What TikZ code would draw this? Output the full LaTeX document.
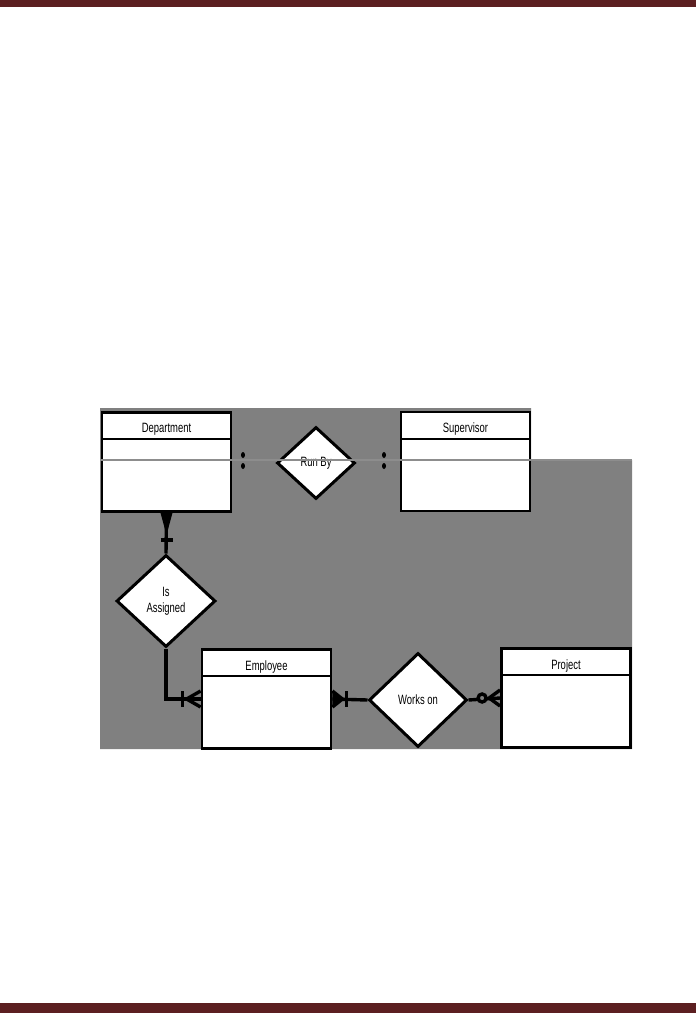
\documentclass[tikz,border=0pt]{standalone}
\usepackage{fontspec}
\newfontfamily\erfont[FakeStretch=0.7]{Liberation Sans}
\usetikzlibrary{arrows.meta,positioning,shapes.geometric,calc}
\definecolor{bar}{HTML}{5c1f21}
\definecolor{bg}{HTML}{808080}

\begin{document}
\begin{tikzpicture}[x=1pt,y=-1pt,
  ent/.style={draw,line width=2.8pt,fill=white,minimum width=129pt,minimum height=99pt,inner sep=0pt},
  rel/.style={draw,diamond,line width=3pt,fill=white,inner sep=0pt,font=\erfont\fontsize{13.5}{15.5}\selectfont,align=center},
  ttl/.style={font=\erfont\fontsize{13.5}{15.5}\selectfont},
  conn/.style={line width=3.4pt},
  every path/.style={line join=miter}]
\useasboundingbox (0,0) rectangle (696,1013);
\fill[bar] (0,0) rectangle (696,7);\fill[bar] (0,1003) rectangle (696,1013);
\fill[bg] (100,408) -- (531,408) -- (531,460) -- (632,460) -- (632,749) -- (100,749) -- cycle;
% entities
\node[ent](dept) at (166.5,462){};\node[ent](sup) at (465.5,461.5){};
\node[ent](emp) at (266.5,699){};\node[ent](proj) at (566,698){};
\foreach \n/\t in {dept/Department,sup/Supervisor,emp/Employee,proj/Project}{
  \node[ttl] (\n-t) at ($(\n.north)+(0,18.5)$) {\t};
  \draw[line width=1.8pt] ($(\n.north west)+(1,28)$) -- ($(\n.north east)+(-1,28)$);}
% relationships
\node[rel,minimum width=78pt,minimum height=72pt](run) at (316,463){Run By};
\node[rel,minimum width=99pt,minimum height=92pt](isa) at (166,601){Is\\Assigned};
\node[rel,minimum width=98pt,minimum height=94pt](works) at (418,700){Works on};
% connectors
\draw[conn] (dept.south) -- (isa.north);
\draw[conn] (isa.south) |- (emp.west);
\draw[conn] (emp.east) -- (works.west);
\draw[conn] (works.east) -- (proj.west);
% cardinality marks
\fill ($(dept.south)+(-6,0)$) -- ($(dept.south)+(0,22)$) -- ($(dept.south)+(6,0)$) -- cycle;
\draw[conn] ($(dept.south)+(-6,27)$) -- ($(dept.south)+(6,27)$);
\draw[conn] ($(emp.west)+(-18,-8)$) -- ($(emp.west)+(-18,8)$);
\draw[conn] ($(emp.west)+(0,-8)$) -- ($(emp.west)+(-14,0)$) -- ($(emp.west)+(0,8)$);
\draw[conn] ($(emp.east)+(14,-8)$) -- ($(emp.east)+(14,8)$);
\draw[conn] ($(emp.east)+(0,-8)$) -- ($(emp.east)+(10,0)$) -- ($(emp.east)+(0,8)$);
\fill ($(emp.east)+(0,-8)$) -- ($(emp.east)+(10,0)$) -- ($(emp.east)+(0,8)$) -- cycle;
\draw[conn,fill=bg] ($(proj.west)+(-18,0)$) circle (4);
\draw[conn] ($(proj.west)+(0,-8)$) -- ($(proj.west)+(-11,0)$) -- ($(proj.west)+(0,8)$);
\draw[line width=1.2pt,bg!90!white] (100,460) -- (632,460);
\foreach \x in {243,384}{\fill (\x,455) ellipse (2 and 3);\fill (\x,466) ellipse (2 and 3);}
\end{tikzpicture}
\end{document}
